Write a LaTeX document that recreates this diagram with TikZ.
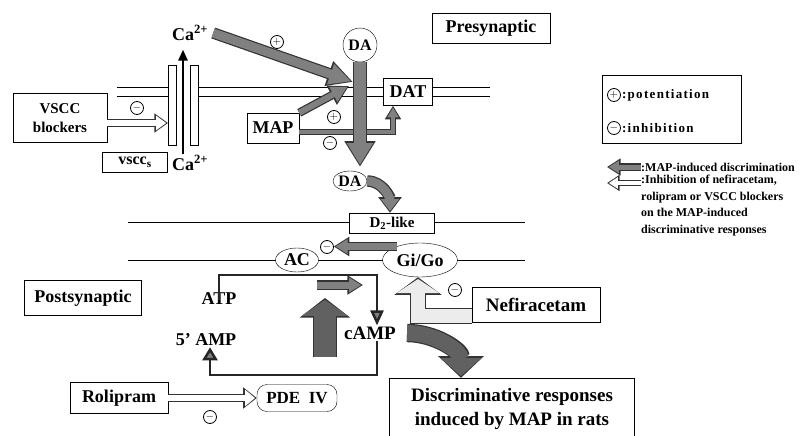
\documentclass[tikz,border=0pt]{standalone}
\usepackage{fontspec}
\setmainfont{Liberation Serif}
\newfontfamily\legfont[LetterSpace=10]{Liberation Serif}
\usetikzlibrary{positioning,arrows.meta,shapes.geometric}

\colorlet{tipgray}{black!50}
\colorlet{arrgray}{black!50}
\colorlet{arrdark}{black!62}
\newcommand{\fsz}[1]{\bfseries\fontsize{#1}{#1}\selectfont}

\tikzset{
  box/.style={draw, fill=white, inner sep=2pt, font=\fsz{18}},
  oval/.style={draw, ellipse, fill=white, inner sep=0pt, font=\fsz{18}},
  chem/.style={inner sep=1pt, font=\fsz{18}},
  pillar/.style={draw, fill=white, minimum width=8pt, minimum height=80pt, inner sep=0pt},
  sgn/.style={draw, circle, fill=white, line width=0.8pt, inner sep=0pt, minimum size=13pt, font=\fontsize{11}{11}\selectfont},
  legtxt/.style={inner sep=0pt, font=\bfseries\fontsize{12}{16.5}\selectfont},
  flow/.style={draw=black!85, line width=2.5pt},
  % fat arrow: inner colour / shaft / head width / head length
  fat/.code args={#1/#2/#3/#4}{%
    \pgfmathsetlengthmacro\fatin{#2}%
    \pgfmathsetlengthmacro\fatout{#2+2.4pt}%
    \pgfmathsetlengthmacro\headin{#3}%
    \pgfmathsetlengthmacro\headout{#3+4.4pt}%
    \pgfmathsetlengthmacro\lenin{#4}%
    \pgfmathsetlengthmacro\lenout{#4+3.6pt}%
    \edef\fatopts{draw=#1, line width=\fatin, shorten >=1.8pt,
      -{Triangle[width=\headin,length=\lenin]},
      preaction={draw=black!80, line width=\fatout, shorten >=0pt,
        -{Triangle[width=\headout,length=\lenout]}}}%
    \expandafter\tikzset\expandafter{\fatopts}},
}

\begin{document}
\begin{tikzpicture}[x=1pt, y=-1pt]
  \useasboundingbox (0,0) rectangle (804,436);
  \clip (0,0) rectangle (804,436);

  % membranes
  \draw (117,87) -- (168,87) (117,96) -- (168,96);
  \draw (199,87) -- (490,87) (199,96) -- (490,96);
  \draw (128,222) -- (525,222) (128,260) -- (525,260);

  % presynaptic side
  \node[box, minimum width=118pt, minimum height=30pt] (pre) at (491,28) {Presynaptic};
  \node[box, minimum width=94pt, minimum height=49pt, align=center, font=\bfseries\fontsize{15}{19}\selectfont] (vsccb) at (60,118) {VSCC\\blockers};
  \coordinate (chan) at (183,105);
  \coordinate (chin) at (168,123);
  \node[pillar, left=7pt of chan] (chL) {};
  \node[pillar, right=7pt of chan] (chR) {};
  \node[box, minimum width=65pt, minimum height=20pt, inner sep=0pt, font=\fsz{16}] (vscc) at (135,162) {vscc\textsubscript{s}};
  \node[chem] (caTop) at (190,33) {Ca\textsuperscript{2+}};
  \node[chem] (caBot) at (190,163) {Ca\textsuperscript{2+}};
  \node[oval, circle, minimum size=34pt, inner sep=-4pt, font=\fsz{16}] (daTop) at (360,45) {DA};
  \node[oval, minimum width=34pt, minimum height=20pt, font=\fsz{16}] (daBot) at (350,181) {DA};
  \node[box, minimum width=49pt, minimum height=27pt, inner sep=0pt] (dat) at (408,92) {DAT};
  \node[box, minimum width=52pt, minimum height=30pt, inner sep=0pt] (map) at (273,128) {MAP};
  \coordinate (release) at (353,82);

  % postsynaptic side
  \node[box, minimum width=117pt, minimum height=35pt, inner sep=1pt] (post) at (83,298) {Postsynaptic};
  \node[box, minimum width=85pt, minimum height=20pt, inner sep=0pt, font=\fsz{15}] (d2) at (392,223) {D\textsubscript{2}-like};
  \node[oval, minimum width=43pt, minimum height=24pt] (ac) at (297,260) {AC};
  \node[oval, minimum width=75pt, minimum height=34pt] (gi) at (420,260) {Gi/Go};
  \node[chem] (atp) at (219,299) {ATP};
  \node[chem, font=\fsz{19}] (camp) at (370,333) {cAMP};
  \node[chem] (amp) at (206,340) {5' AMP};
  \node[box, minimum width=98pt, minimum height=31pt, inner sep=1pt] (rol) at (119,398) {Rolipram};
  \node[box, rounded corners=10pt, minimum width=80pt, minimum height=27pt, inner sep=0pt, font=\fsz{17}] (pde) at (297,398) {PDE\ \ IV};
  \node[box, minimum width=128pt, minimum height=35pt, font=\fsz{19}] (nef) at (536,305) {Nefiracetam};
  \node[box, minimum width=245pt, minimum height=62pt, align=center, font=\bfseries\fontsize{19}{24}\selectfont] (disc) at (512,409) {Discriminative responses\\induced by MAP in rats};
  \coordinate (acout) at (377,275);
  \coordinate (pdeline) at (210,375);

  % legend
  \node[box, minimum width=139pt, minimum height=68pt] (legend) at (672,109) {};
  \node[sgn] (lplus) at (614,95) {$+$};
  \node[legtxt, right=1pt of lplus, font=\legfont\bfseries\fontsize{13}{13}\selectfont] {:potentiation};
  \node[sgn] (lminus) at (614,128) {$-$};
  \node[legtxt, right=1pt of lminus, font=\legfont\bfseries\fontsize{13}{13}\selectfont] {:inhibition};
  \node[legtxt, anchor=west] (kmap) at (641,167) {:MAP-induced discrimination};
  \node[legtxt, anchor=north west, align=left] (kinh) at (641,175) {:Inhibition of nefiracetam,\\rolipram or VSCC blockers\\on the MAP-induced\\discriminative responses};
  \draw[fat=arrgray/5pt/12pt/10pt] (kmap.west) -- ++(-34,0);
  \draw[fat=white/4pt/11pt/9pt] ([yshift=-8pt]kinh.north west) -- ++(-34,0);

  % presynaptic arrows
  \draw[fat=white/5pt/14pt/10pt] (vsccb.east |- chin) -- (chin);
  \node[sgn] at (137,108) {$-$};
  \draw[black, line width=2.5pt, -{Triangle[width=9pt,length=11pt]}] (caBot.north -| chan) -- ([yshift=-8pt]caTop.south -| chan);
  \draw[fat=arrgray/9pt/20pt/22pt] ([xshift=4pt]caTop.east) -- (release);
  \node[sgn] at (277,42) {$+$};
  \draw[fat=arrgray/6pt/16pt/16pt] (map.north east) -- ([shift={(-4pt,-4pt)}]release);
  \node[sgn] at (334,117) {$+$};
  \draw[fat=arrgray/4pt/11pt/10pt] ([yshift=-4pt]map.east) -| ([xshift=-15pt]dat.south);
  \node[sgn] at (330,143) {$-$};
  \draw[fat=arrgray/12pt/25pt/22pt] (daTop.south) -- ([yshift=4pt]daTop.south |- daBot.north);
  \draw[fat=arrgray/9pt/18pt/12pt] (daBot.east) to[out=0, in=90] ([xshift=-2pt]d2.north);

  % postsynaptic arrows
  \draw[fat=arrgray/7pt/14pt/12pt] (gi.150) -- ([xshift=15pt]ac.east |- gi.150);
  \node[sgn] at (327,247) {$-$};
  \draw[flow, -{Triangle[width=13pt,length=15pt,fill=tipgray]}] ([yshift=-8pt]atp.north) |- (acout) -- (acout |- camp.north);
  \draw[fat=arrgray/7pt/14pt/12pt] ([shift={(-60pt,-10pt)}]acout) -- ([shift={(-14pt,-10pt)}]acout);
  \draw[fat=arrdark/22pt/45pt/16pt] ([xshift=-18pt]camp.west |- 0,357) -- ([xshift=-18pt]camp.west |- 0,298);
  \draw[flow, -{Triangle[width=15pt,length=13pt,fill=tipgray]}] (camp.south -| acout) |- (pdeline) -- (pdeline |- amp.south);
  \draw[fat=white/6pt/16pt/10pt] (rol.east) -- (pde.west);
  \node[sgn] at (210,417) {$-$};
  \draw[fat=gray!15/14pt/42pt/14pt] ([yshift=-11pt]nef.west) -| ([xshift=-2pt]gi.south);
  \node[sgn] at (455,290) {$-$};
  \draw[fat=arrdark/16pt/40pt/18pt] ([xshift=10pt]camp.east) to[out=0, in=90] ([xshift=-51pt]disc.north);
\end{tikzpicture}
\end{document}
